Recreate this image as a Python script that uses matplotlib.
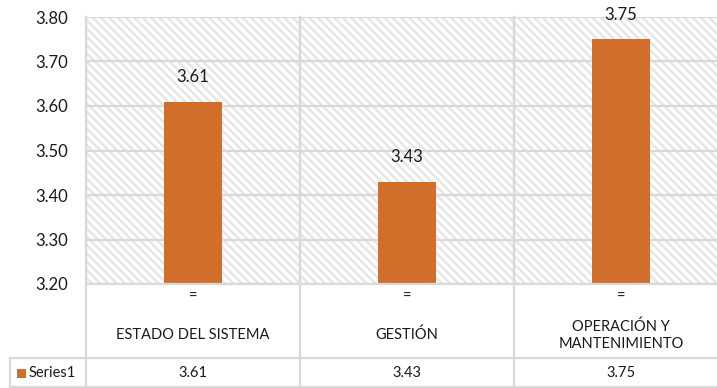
import matplotlib
matplotlib.use("Agg")
import matplotlib.pyplot as plt
from matplotlib.patches import Rectangle
from matplotlib.lines import Line2D

categories = ["ESTADO DEL SISTEMA", "GESTIÓN", "OPERACIÓN Y\nMANTENIMIENTO"]
values = [3.61, 3.43, 3.75]
value_labels = ["3.61", "3.43", "3.75"]
series_name = "Series1"
y_ticks = [3.20, 3.30, 3.40, 3.50, 3.60, 3.70, 3.80]

BAR_COLOR = "#D26E2C"
GRID = "#D9D9D9"
TEXT = "#1a1a1a"
plt.rcParams["font.family"] = ["Lato", "DejaVu Sans"]
plt.rcParams["hatch.linewidth"] = 1.8

W, H = 717, 388
fig = plt.figure(figsize=(W / 100, H / 100), dpi=100)

# plot area in pixel coordinates (right edge runs past the figure)
left, right, top, bottom = 86, 728, 17, 284
ax = fig.add_axes([left / W, 1 - bottom / H, (right - left) / W, (bottom - top) / H])
ax.set_xlim(-0.5, 2.5)
ax.set_ylim(3.2, 3.8)

# hatched background
bg = Rectangle((0, 0), 1, 1, transform=ax.transAxes, facecolor="white",
               edgecolor="#E6E6E6", hatch="\\\\\\\\", linewidth=0, zorder=0)
ax.add_patch(bg)

for yv in y_ticks:
    ax.axhline(yv, color=GRID, lw=1.6, zorder=1)
for xv in [0.5, 1.5]:
    ax.axvline(xv, color=GRID, lw=1.6, zorder=1)

x = list(range(len(categories)))
ax.bar(x, values, width=0.267, color=BAR_COLOR, zorder=3, bottom=0)
for xi, v, lab in zip(x, values, value_labels):
    ax.annotate(lab, (xi, v), xytext=(0, 12), textcoords="offset points",
                ha="center", va="bottom", fontsize=12, color=TEXT)

ax.set_yticks(y_ticks)
ax.set_yticklabels([f"{t:.2f}" for t in y_ticks], fontsize=12, color=TEXT)
ax.tick_params(axis="y", length=0, pad=13)
ax.set_xticks([])
for s in ax.spines.values():
    s.set_visible(False)
ax.axvline(-0.5, color=GRID, lw=1.6, zorder=2)

# data table below the plot area
def fx(px):
    return px / W

def fy(py):
    return 1 - py / H

seps = [86, 300, 514, 728]
row1_bottom = 358
table_bottom = 387
lines = [
    ((86, 717), (bottom, bottom)),
    ((10, 717), (row1_bottom, row1_bottom)),
    ((10, 717), (table_bottom, table_bottom)),
    ((10, 10), (row1_bottom, table_bottom)),
]
for sx in seps[:3]:
    lines.append(((sx, sx), (top, table_bottom)))
for xs, ys in lines:
    fig.add_artist(Line2D([fx(xs[0]), fx(xs[1])], [fy(ys[0]), fy(ys[1])],
                          color=GRID, lw=1.6))

for i, (cat, lab) in enumerate(zip(categories, value_labels)):
    cx = (seps[i] + seps[i + 1]) / 2
    fig.text(fx(cx), fy(297), "=", ha="center", va="center", fontsize=10.5, color=TEXT)
    fig.text(fx(cx), fy(335), cat, ha="center", va="center", fontsize=10.5,
             color=TEXT, linespacing=1.25)
    fig.text(fx(cx), fy(373), lab, ha="center", va="center", fontsize=10.5, color=TEXT)

fig.add_artist(Rectangle((fx(17), fy(378)), 9 / W, 9 / H, facecolor=BAR_COLOR,
                         edgecolor="none", transform=fig.transFigure))
fig.text(fx(29), fy(373), series_name, ha="left", va="center", fontsize=10.5, color=TEXT)

fig.savefig("out.png", dpi=100)
